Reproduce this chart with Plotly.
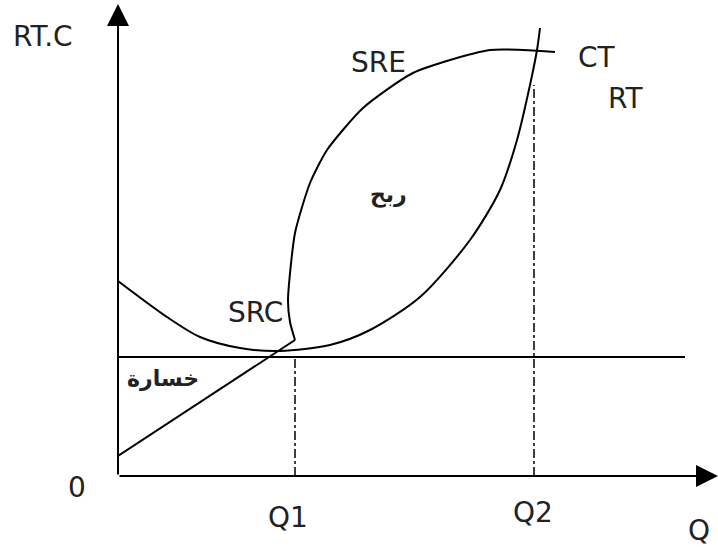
import plotly.graph_objects as go

# ---- data (Q units on x, RT/C units on y) ----
ct_q = [0, 49, 82, 122, 162, 212, 252, 302, 352, 382, 399, 412, 419, 422]
ct_v = [195, 159, 139, 128, 125, 131, 146, 179, 236, 286, 336, 391, 426, 448]

rt_lin_q = [0, 177]
rt_lin_v = [20, 136]

sre_q = [177, 172, 170, 177, 192, 209, 245, 295, 372, 437]
sre_v = [136, 154, 176, 243, 293, 326, 368, 403, 426, 424]

price_level = 119
price_q_end = 567
q1 = 177
q2 = 416
q2_top = 391

labels = ["RT.C", "SRE", "CT", "RT", "ربح", "SRC", "خسارة", "0", "Q1", "Q2", "Q"]
label_q = [-75, 260, 479, 507, 270, 137, 45, -41, 170, 415, 581]
label_v = [440, 414, 419, 378, 281, 163, 98, -12, -41, -36, -54]

X_MAX = 600
Y_MAX = 472

fig = go.Figure()
line = dict(color="black", width=2)
fig.add_trace(go.Scatter(x=ct_q, y=ct_v, mode="lines", line=dict(color="black", width=2, shape="spline", smoothing=0.8)))
fig.add_trace(go.Scatter(x=rt_lin_q, y=rt_lin_v, mode="lines", line=line))
fig.add_trace(go.Scatter(x=sre_q, y=sre_v, mode="lines", line=dict(color="black", width=2, shape="spline", smoothing=0.6)))
fig.add_trace(go.Scatter(x=[0, price_q_end], y=[price_level, price_level], mode="lines", line=line))
fig.add_trace(go.Scatter(x=[q1, q1], y=[0, price_level], mode="lines", line=dict(color="black", width=1.5, dash="dashdot")))
fig.add_trace(go.Scatter(x=[q2, q2], y=[0, q2_top], mode="lines", line=dict(color="black", width=1.5, dash="dashdot")))

# axes arrows
fig.add_annotation(x=X_MAX, y=0, ax=0, ay=0, xref="x", yref="y", axref="x", ayref="y",
                   showarrow=True, arrowhead=2, arrowsize=2.2, arrowwidth=2, arrowcolor="black", text="")
fig.add_annotation(x=0, y=Y_MAX, ax=0, ay=0, xref="x", yref="y", axref="x", ayref="y",
                   showarrow=True, arrowhead=2, arrowsize=2.2, arrowwidth=2, arrowcolor="black", text="")

for t, xq, yv in zip(labels, label_q, label_v):
    arabic = t in ("ربح", "خسارة")
    fig.add_annotation(x=xq / X_MAX, y=yv / Y_MAX, text=("<b>%s</b>" % t) if arabic else t,
                       showarrow=False, xref="paper", yref="paper",
                       xanchor="center", yanchor="middle",
                       font=dict(family="DejaVu Sans", size=22 if arabic else 28, color="#222"))

fig.update_layout(
    width=718, height=547,
    margin=dict(l=118, r=0, t=4, b=71),
    paper_bgcolor="white", plot_bgcolor="white",
    showlegend=False,
    xaxis=dict(range=[0, X_MAX], visible=False, fixedrange=True),
    yaxis=dict(range=[0, Y_MAX], visible=False, fixedrange=True),
)
fig.write_html("out.html", config={"displayModeBar": False},
               post_script="document.body.style.margin='0';")
